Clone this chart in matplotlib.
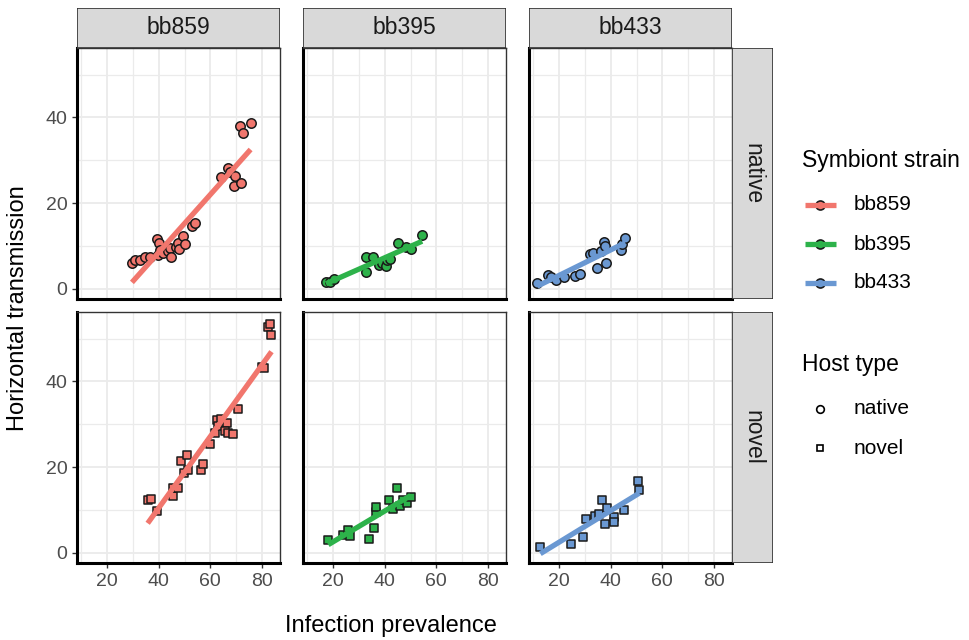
import numpy as np
import matplotlib
matplotlib.use("Agg")
import matplotlib.pyplot as plt
from matplotlib.patches import Rectangle

plt.rcParams['font.family'] = ['Liberation Sans', 'DejaVu Sans']

# strains (columns) and host types (rows)
strains = ["bb859", "bb395", "bb433"]
hosts = ["native", "novel"]
strain_colors = ["#F1766D", "#2DB24A", "#6A98D2"]
host_markers = ["o", "s"]

# infection prevalence (x) and horizontal transmission (y)
prev_bb859_native = [29.6, 30.8, 32.8, 34.7, 36.6, 39.2, 39.9, 39.6, 40.5, 41.8, 43.6, 44.4,
                     44.8, 46.5, 47.6, 48.0, 49.5, 50.2, 52.8, 54.1, 64.0, 67.0, 67.6, 69.6,
                     69.3, 71.9, 71.5, 72.8, 75.6]
trans_bb859_native = [6.1, 6.6, 6.7, 7.4, 7.5, 11.6, 10.6, 7.9, 9.0, 8.3, 8.8, 9.5,
                      7.5, 9.8, 10.6, 9.3, 12.2, 10.5, 14.7, 15.4, 26.0, 28.3, 27.3, 26.3,
                      24.0, 24.6, 38.1, 36.4, 38.7]
prev_bb859_novel = [35.7, 37.0, 39.2, 45.4, 45.7, 47.4, 49.9, 51.5, 48.6, 51.1, 56.4, 57.3,
                    59.9, 61.8, 62.5, 64.1, 63.1, 66.3, 65.7, 66.7, 68.9, 70.6, 79.9, 80.8,
                    82.2, 83.1, 83.7]
trans_bb859_novel = [12.4, 12.6, 9.8, 13.2, 15.0, 15.0, 18.6, 19.3, 21.5, 22.8, 19.4, 20.8,
                     25.3, 28.0, 30.9, 31.3, 29.5, 30.3, 28.4, 28.0, 27.8, 33.5, 43.4, 43.2,
                     52.6, 53.5, 50.8]
prev_bb395_native = [17.2, 18.7, 20.3, 32.7, 32.9, 35.3, 37.8, 39.1, 40.4, 40.9, 42.2, 45.3,
                     48.4, 50.3, 54.5]
trans_bb395_native = [1.5, 1.6, 2.3, 4.0, 7.5, 7.4, 5.5, 6.0, 5.2, 6.7, 6.9, 10.6,
                      9.8, 9.2, 12.6]
prev_bb395_novel = [18.1, 23.9, 25.8, 26.5, 33.8, 35.8, 36.5, 36.5, 41.7, 43.0, 44.8, 45.8,
                    47.1, 48.6, 50.0]
trans_bb395_novel = [2.9, 4.2, 5.4, 4.0, 3.2, 5.8, 9.4, 10.7, 12.4, 10.2, 15.1, 10.8,
                     12.4, 11.6, 12.9]
prev_bb433_native = [11.5, 15.6, 16.9, 18.9, 21.8, 26.2, 27.9, 31.8, 33.0, 34.8, 36.1, 37.3,
                     37.6, 38.2, 43.8, 44.3, 45.6]
trans_bb433_native = [1.3, 3.3, 2.7, 2.1, 2.7, 3.0, 3.5, 8.1, 8.4, 4.8, 8.7, 10.8,
                      10.0, 6.0, 9.1, 10.5, 11.9]
prev_bb433_novel = [12.7, 24.4, 29.2, 30.5, 33.7, 35.3, 36.5, 37.9, 38.6, 41.4, 41.4, 45.3,
                    50.5, 51.1]
trans_bb433_novel = [1.3, 2.1, 3.6, 7.9, 8.5, 9.1, 12.2, 6.8, 10.5, 8.4, 7.1, 9.9,
                     16.7, 14.6]

data = {
    ("bb859", "native"): (prev_bb859_native, trans_bb859_native),
    ("bb859", "novel"): (prev_bb859_novel, trans_bb859_novel),
    ("bb395", "native"): (prev_bb395_native, trans_bb395_native),
    ("bb395", "novel"): (prev_bb395_novel, trans_bb395_novel),
    ("bb433", "native"): (prev_bb433_native, trans_bb433_native),
    ("bb433", "novel"): (prev_bb433_novel, trans_bb433_novel),
}

W, H = 969, 640
fig = plt.figure(figsize=(W / 100, H / 100), dpi=100)


def px_box(l, t, r, b):
    # pixel box (from top-left) -> figure fraction rect
    return [l / W, 1 - b / H, (r - l) / W, (b - t) / H]


col_left = [77, 303, 529]
panel_w = 203
row_top = [48, 312]
panel_h = 251
tick_grey = "#4D4D4D"
border = "#333333"

for ci, strain in enumerate(strains):
    for ri, host in enumerate(hosts):
        l, t = col_left[ci], row_top[ri]
        ax = fig.add_axes(px_box(l, t, l + panel_w, t + panel_h))
        x, y = data[(strain, host)]
        x = np.array(x)
        y = np.array(y)
        ax.scatter(x, y, s=46 if host == "native" else 40, marker=host_markers[ri],
                   facecolor=strain_colors[ci], edgecolor="#1a1a1a", linewidth=1.1, zorder=3)
        # linear fit, like geom_smooth(method = "lm", se = FALSE)
        p = np.polyfit(x, y, 1)
        xs = np.array([x.min(), x.max()])
        ax.plot(xs, np.polyval(p, xs), color=strain_colors[ci], lw=3.8,
                solid_capstyle="butt", zorder=4)

        ax.set_xlim(8.3, 87.0)
        ax.set_ylim(-2.4, 56.2)
        ax.set_xticks([20, 40, 60, 80])
        ax.set_xticks([10, 30, 50, 70], minor=True)
        ax.set_yticks([0, 20, 40])
        ax.set_yticks([10, 30, 50], minor=True)
        ax.grid(True, which="major", color="#EBEBEB", lw=1.3)
        ax.grid(True, which="minor", color="#EBEBEB", lw=0.9)
        ax.set_axisbelow(True)
        ax.tick_params(which="minor", length=0)
        ax.tick_params(which="major", length=3.5, width=1.0, color=border,
                       labelcolor=tick_grey, labelsize=14, pad=3.5)
        if ci != 0:
            ax.tick_params(axis="y", left=False, labelleft=False)
        if ri != 1:
            ax.tick_params(axis="x", bottom=False, labelbottom=False)
        for side in ["top", "right"]:
            ax.spines[side].set_color(border)
            ax.spines[side].set_linewidth(1.0)
        for side in ["left", "bottom"]:
            ax.spines[side].set_color("black")
            ax.spines[side].set_linewidth(2.2)

# strips
strip_fill = "#D9D9D9"
for ci, strain in enumerate(strains):
    l = col_left[ci]
    sax = fig.add_axes(px_box(l, 8, l + panel_w, 48))
    sax.set_axis_off()
    sax.add_patch(Rectangle((0, 0), 1, 1, transform=sax.transAxes, facecolor=strip_fill,
                            edgecolor=border, lw=1.2))
    sax.text(0.5, 0.5, strain, ha="center", va="center", fontsize=16.5, color="#1A1A1A",
             transform=sax.transAxes)
for ri, host in enumerate(hosts):
    t = row_top[ri]
    sax = fig.add_axes(px_box(732, t, 773, t + panel_h))
    sax.set_axis_off()
    sax.add_patch(Rectangle((0, 0), 1, 1, transform=sax.transAxes, facecolor=strip_fill,
                            edgecolor=border, lw=1.2))
    sax.text(0.5, 0.5, host, ha="center", va="center", rotation=-90, fontsize=16.5,
             color="#1A1A1A", transform=sax.transAxes)

# axis titles
fig.text(391 / W, 1 - 626 / H, "Infection prevalence", ha="center", va="center", fontsize=17)
fig.text(18 / W, 1 - 308 / H, "Horizontal transmission", ha="center", va="center",
         rotation=90, fontsize=17)

# legends drawn on an overlay in pixel units
lax = fig.add_axes([0, 0, 1, 1])
lax.set_xlim(0, W)
lax.set_ylim(H, 0)
lax.set_axis_off()
lax.text(802, 161, "Symbiont strain", ha="left", va="center", fontsize=16.5)
for k, (strain, col) in enumerate(zip(strains, strain_colors)):
    yk = 205 + k * 39
    lax.plot([820.5], [yk], marker="o", ms=6.5, mfc=col, mec="#1a1a1a", mew=1.2)
    lax.plot([805, 836], [yk, yk], color=col, lw=3.8, solid_capstyle="butt")
    lax.text(854, yk, strain, ha="left", va="center", fontsize=15)
lax.text(802, 365, "Host type", ha="left", va="center", fontsize=16.5)
for k, (host, m) in enumerate(zip(hosts, host_markers)):
    yk = 409 + k * 39
    lax.plot([820.5], [yk], marker=m, ms=5.5 if m == "o" else 5.0, mfc="white",
             mec="black", mew=1.2)
    lax.text(854, yk, host, ha="left", va="center", fontsize=15)

fig.savefig("out.png", dpi=100)
